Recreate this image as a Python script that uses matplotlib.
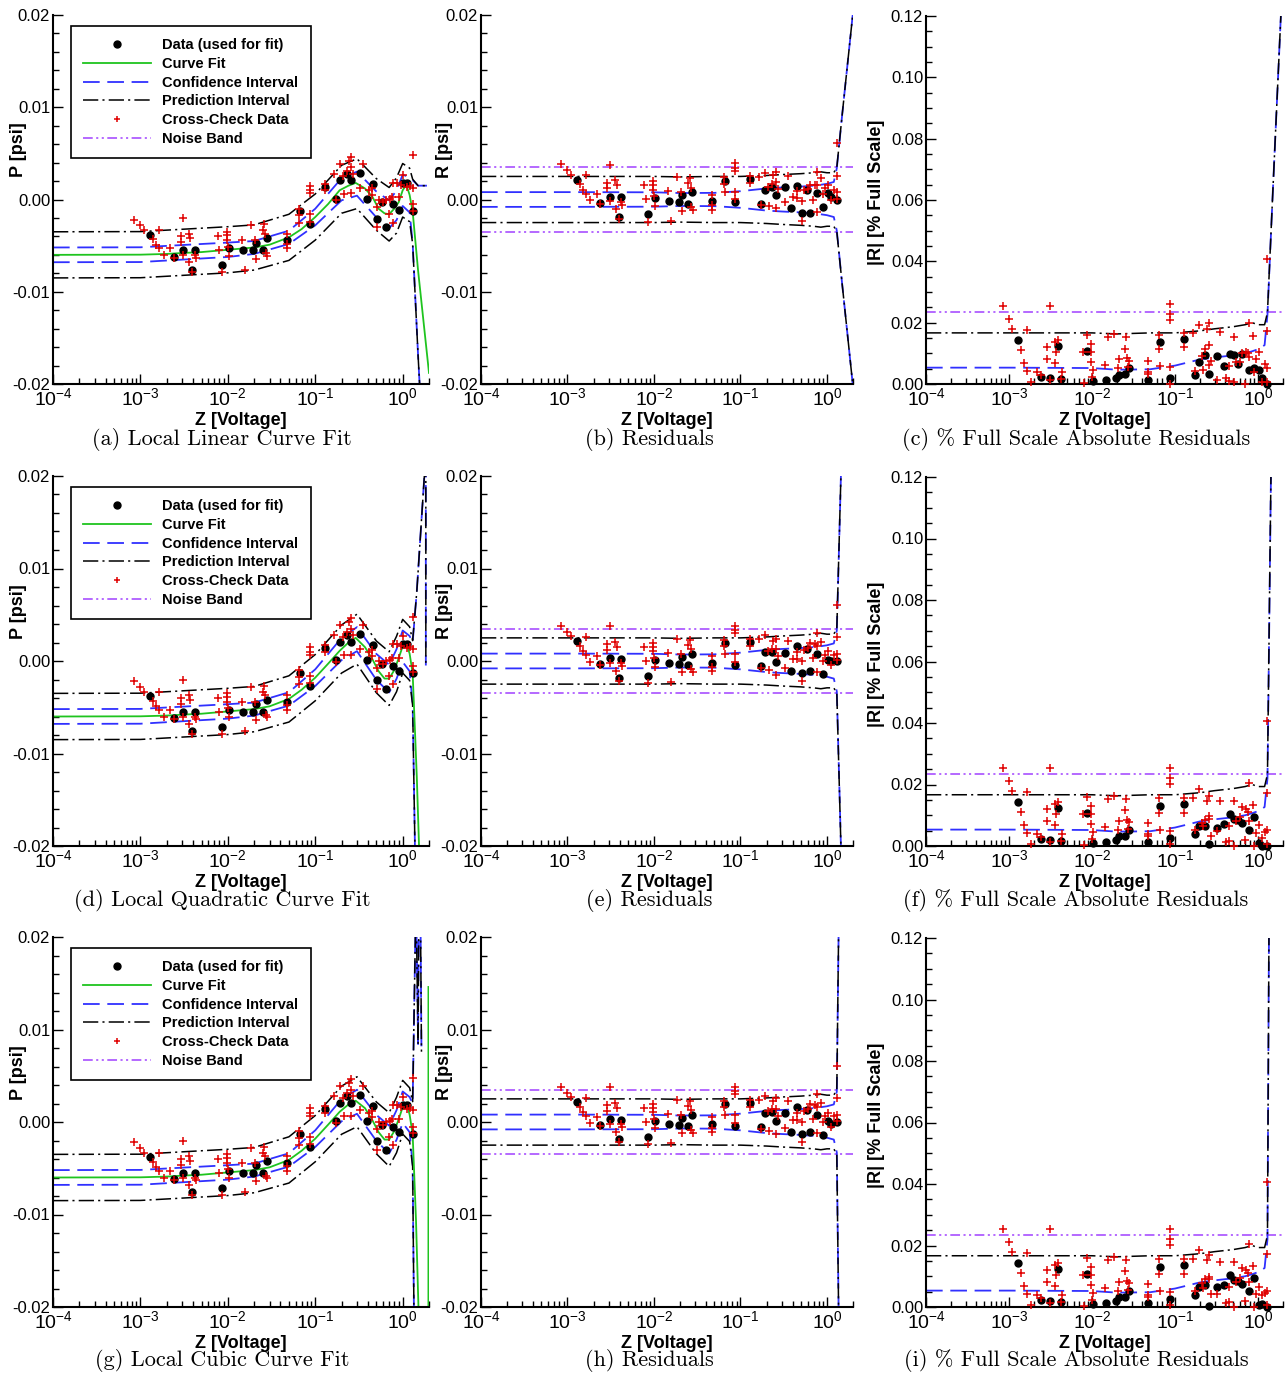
import numpy as np
import matplotlib.pyplot as plt
from matplotlib.lines import Line2D
from matplotlib.ticker import FixedLocator, MultipleLocator, LogLocator, NullFormatter, FuncFormatter

plt.rcParams['font.family'] = ['Liberation Sans', 'DejaVu Sans']
plt.rcParams['mathtext.fontset'] = 'custom'
plt.rcParams['mathtext.rm'] = 'Liberation Sans'
plt.rcParams['mathtext.it'] = 'Liberation Sans:italic'
plt.rcParams['mathtext.bf'] = 'Liberation Sans:bold'
plt.rcParams['lines.scale_dashes'] = False

# points used for the fit
z_fit = [1.29e-3, 2.4e-3, 3.1e-3, 3.9e-3, 4.2e-3, 8.6e-3, 1.03e-2, 1.48e-2, 1.93e-2, 2.1e-2,
         2.5e-2, 2.77e-2, 4.7e-2, 6.65e-2, 8.7e-2, 0.13, 0.173, 0.192, 0.229, 0.257,
         0.325, 0.388, 0.454, 0.509, 0.58, 0.645, 0.77, 0.9, 1.02, 1.11, 1.3]
p_fit = [-0.0038, -0.0062, -0.0055, -0.0076, -0.0055, -0.0071, -0.0053, -0.0055, -0.0055, -0.0047,
         -0.0055, -0.0042, -0.0044, -0.0013, -0.0027, 0.0014, 0.0001, 0.0021, 0.0028, 0.0021,
         0.0029, 0.0001, 0.0017, -0.0021, -0.0003, -0.0030, -0.0005, -0.0011, 0.0018, 0.0018, -0.0013]

# cross-check points
z_cc = [8.4e-4, 9.95e-4, 1.1e-3, 1.39e-3, 1.51e-3, 1.65e-3, 1.84e-3, 1.65e-3, 2.19e-3, 2.4e-3,
        2.88e-3, 2.88e-3, 3.1e-3, 3.1e-3, 3.58e-3, 3.7e-3, 3.6e-3, 3.9e-3, 4.2e-3, 4.3e-3,
        8.0e-3, 7.7e-3, 8.6e-3, 9.7e-3, 9.8e-3, 9.8e-3, 1.0e-2, 1.04e-2, 1.44e-2, 1.56e-2,
        1.83e-2, 2.03e-2, 2.1e-2, 2.5e-2, 2.6e-2, 2.65e-2, 2.7e-2, 2.8e-2, 4.7e-2, 4.7e-2,
        4.7e-2, 6.5e-2, 6.5e-2, 6.6e-2, 8.7e-2, 8.7e-2, 8.7e-2, 8.7e-2, 8.7e-2, 0.13,
        0.13, 0.165, 0.173, 0.192, 0.215, 0.229, 0.257, 0.257, 0.257, 0.325,
        0.35, 0.41, 0.446, 0.509, 0.51, 0.54, 0.645, 0.69, 0.76, 0.77,
        0.77, 0.86, 0.9, 1.02, 1.11, 1.3, 1.3, 1.3, 1.3, 0.21,
        0.24, 0.27, 0.45, 0.6, 0.72, 0.95, 1.2]
p_cc = [-0.00217, -0.0028, -0.0033, -0.0043, -0.0049, -0.0053, -0.0060, -0.0033, -0.0053, -0.0063,
        -0.0040, -0.0046, -0.0020, -0.0060, -0.0037, -0.0042, -0.0068, -0.0079, -0.0060, -0.0063,
        -0.0055, -0.0040, -0.0079, -0.0035, -0.0039, -0.0044, -0.0051, -0.0061, -0.0044, -0.0076,
        -0.0028, -0.0044, -0.0064, -0.0033, -0.0027, -0.0037, -0.0058, -0.0061, -0.0037, -0.0048,
        -0.0053, -0.0010, -0.0017, -0.0025, 0.0015, 0.0010, 0.0007, -0.0016, -0.0024, 0.0017,
        0.0010, 0.0028, -0.0001, 0.0039, 0.0006, 0.0031, 0.0046, 0.0035, 0.0007, 0.0013,
        0.0039, 0.0010, 0.0005, -0.0008, -0.0030, 0.0000, 0.0000, -0.0016, 0.0003, 0.0018,
        -0.0025, 0.0018, 0.0003, 0.0027, 0.0014, 0.0048, 0.0013, -0.0005, -0.0012, 0.0026,
        0.0042, 0.0028, 0.0012, -0.0003, 0.0001, 0.0016, 0.0015]

full_scale = 15.0   # psi
noise = 0.0035      # psi

# curve fits: shared grid up to 1.3 V, then each fit's own tail
fit_z_body = [1e-4, 1e-3, 2e-3, 3e-3, 5e-3, 1e-2, 2e-2, 3e-2, 5e-2, 7e-2, 0.1, 0.14, 0.19,
              0.24, 0.29, 0.37, 0.45, 0.53, 0.62, 0.7, 0.8, 0.9, 1.0, 1.1, 1.2, 1.3]
fit_lin = [-0.0060, -0.00598, -0.0059, -0.0058, -0.0057, -0.00545, -0.0052, -0.0049, -0.0041, -0.0032,
           -0.0019, -0.0005, 0.0010, 0.0015, 0.0018, 0.0012, 0.0003, -0.0010, -0.0015, -0.0016,
           -0.0010, -0.0003, 0.0010, 0.0016, 0.0005, -0.0013]
fit_quad = [-0.0060, -0.00598, -0.0059, -0.0058, -0.0057, -0.00545, -0.0052, -0.0049, -0.0041, -0.0031,
            -0.0018, -0.0003, 0.0011, 0.0020, 0.0025, 0.0015, 0.0002, -0.0011, -0.0019, -0.0019,
            -0.0010, 0.0003, 0.0016, 0.0019, 0.0008, -0.0013]
fit_cub = [-0.0060, -0.00598, -0.0059, -0.0058, -0.0057, -0.00545, -0.0052, -0.0049, -0.0041, -0.0031,
           -0.0018, -0.0003, 0.0011, 0.0019, 0.0023, 0.0015, 0.0002, -0.0011, -0.0019, -0.0019,
           -0.0010, 0.0003, 0.0016, 0.0021, 0.0008, -0.0013]
tail_z_lin, tail_p_lin = [1.5, 2.0], [-0.0077, -0.0188]
tail_z_quad, tail_p_quad = [1.45, 1.55, 1.77, 1.85], [-0.0125, -0.021, -0.040, -0.045]
tail_z_cub, tail_p_cub = [1.42, 1.52, 1.64, 1.96, 1.97], [-0.0106, -0.0205, -0.030, -0.5, 0.0146]

# interval half-widths (psi)
band_z_body = [1e-4, 1e-3, 1e-2, 2e-2, 5e-2, 0.1, 0.2, 0.3, 0.5, 0.7, 0.85, 1.0, 1.2]
ci_body = [0.0008, 0.0008, 0.00078, 0.0007, 0.00072, 0.0009, 0.0012, 0.0013, 0.0014, 0.0015, 0.0016, 0.0017, 0.0019]
pi_body = [0.0025, 0.0025, 0.0025, 0.00245, 0.0025, 0.0025, 0.0026, 0.0027, 0.0028, 0.0029, 0.0030, 0.0029, 0.0029]
band_tail_z_lin = [1.3, 1.5, 2.0]
ci_tail_lin = [0.0034, 0.0092, 0.0203]
pi_tail_lin = [0.0035, 0.0092, 0.0203]
band_tail_z_quad = [1.3, 1.45, 1.77, 1.83, 1.84]
ci_tail_quad = [0.0033, 0.020, 0.060, 0.35, 0.0439]
pi_tail_quad = [0.0035, 0.020, 0.060, 0.35, 0.0439]
band_tail_z_cub = [1.3, 1.42, 1.5, 1.56, 1.64]
ci_tail_cub = [0.0033, 0.035, 0.027, 0.060, 0.0376]
pi_tail_cub = [0.0035, 0.035, 0.027, 0.060, 0.0376]

captions = [
    ['(a) Local Linear Curve Fit', '(b) Residuals', '(c) % Full Scale Absolute Residuals'],
    ['(d) Local Quadratic Curve Fit', '(e) Residuals', '(f) % Full Scale Absolute Residuals'],
    ['(g) Local Cubic Curve Fit', '(h) Residuals', '(i) % Full Scale Absolute Residuals'],
]

GREEN = '#1fc41f'
BLUE = '#3030ff'
RED = '#e00000'
PURPLE = '#a040ff'
LS_CI = (0, (12, 5.5))
LS_PI = (0, (11, 3, 1.5, 3))
LS_NB = (0, (7, 2.5, 1.5, 2.5, 1.5, 2.5))

W, H = 1286, 1376
fig = plt.figure(figsize=(W / 100, H / 100), dpi=100)


def add_axes_px(left, top, right, bottom):
    return fig.add_axes([left / W, 1 - bottom / H, (right - left) / W, (bottom - top) / H])


def interp_log(z, zz, pp):
    return np.interp(np.log10(z), np.log10(zz), pp)


def fmt_y(v, pos):
    if abs(v) < 1e-9:
        return '0.00'
    return '%.2f' % v


def style_axes(ax, ylim, ymajor, yminor):
    ax.set_xscale('log')
    ax.set_xlim(1e-4, 2.0)
    ax.set_ylim(*ylim)
    ax.xaxis.set_major_locator(FixedLocator([1e-4, 1e-3, 1e-2, 1e-1, 1.0]))
    ax.set_xticklabels([r'$10^{-4}$', r'$10^{-3}$', r'$10^{-2}$', r'$10^{-1}$', r'$10^{0}$'])
    ax.xaxis.set_minor_locator(LogLocator(base=10, subs=np.arange(2, 10), numticks=20))
    ax.xaxis.set_minor_formatter(NullFormatter())
    ax.yaxis.set_major_locator(MultipleLocator(ymajor))
    ax.yaxis.set_minor_locator(MultipleLocator(yminor))
    ax.yaxis.set_major_formatter(FuncFormatter(fmt_y))
    for s in ['top', 'right']:
        ax.spines[s].set_visible(False)
    for s in ['left', 'bottom']:
        ax.spines[s].set_linewidth(1.5)
    ax.tick_params(which='both', direction='in', top=False, right=False, width=1)
    ax.tick_params(which='major', length=7)
    ax.tick_params(which='minor', length=4)
    ax.tick_params(axis='x', which='major', labelsize=14, pad=2)
    ax.tick_params(axis='y', which='major', labelsize=12, pad=2)
    ax.set_xlabel('Z [Voltage]', fontsize=13, fontweight='bold', va='top')
    ax.xaxis.set_label_coords(0.5, -0.076)


legend_handles = [
    Line2D([], [], ls='none', marker='o', ms=5, color='black'),
    Line2D([], [], color=GREEN, lw=1.3),
    Line2D([], [], color=BLUE, lw=1.3, ls=LS_CI),
    Line2D([], [], color='black', lw=1.1, ls=LS_PI),
    Line2D([], [], ls='none', marker='+', ms=5, mew=1.1, color=RED),
    Line2D([], [], color=PURPLE, lw=1.1, ls=LS_NB),
]
legend_labels = ['Data (used for fit)', 'Curve Fit', 'Confidence Interval',
                 'Prediction Interval', 'Cross-Check Data', 'Noise Band']

fits = [
    (fit_lin, tail_z_lin, tail_p_lin, band_tail_z_lin, ci_tail_lin, pi_tail_lin),
    (fit_quad, tail_z_quad, tail_p_quad, band_tail_z_quad, ci_tail_quad, pi_tail_quad),
    (fit_cub, tail_z_cub, tail_p_cub, band_tail_z_cub, ci_tail_cub, pi_tail_cub),
]
row_px = [(15, 384), (476, 846), (937, 1307)]
caption_y = [439, 900, 1361]
caption_x = [222, 649, 1076]

zd = np.array(z_fit)
pd_ = np.array(p_fit)
zc = np.array(z_cc)
pc = np.array(p_cc)

for r, (fbody, tz, tp, btz, cit, pit) in enumerate(fits):
    top, bot = row_px[r]
    fz = np.array(fit_z_body + tz)
    fp = np.array(fbody + tp)
    bz = np.array(band_z_body + btz)
    ci = np.array(ci_body + cit)
    pi = np.array(pi_body + pit)
    center = interp_log(bz, fz, fp)

    res_d = pd_ - interp_log(zd, fz, fp)
    res_c = pc - interp_log(zc, fz, fp)

    # curve fit with intervals
    ax = add_axes_px(53, top, 429, bot)
    ax.plot(bz, center + ci, color=BLUE, lw=1.3, ls=LS_CI)
    ax.plot(bz, center - ci, color=BLUE, lw=1.3, ls=LS_CI)
    ax.plot(bz, center + pi, color='black', lw=1.1, ls=LS_PI)
    ax.plot(bz, center - pi, color='black', lw=1.1, ls=LS_PI)
    ax.plot(fz, fp, color=GREEN, lw=1.3)
    ax.plot(zd, pd_, 'o', ms=5, color='black', zorder=4)
    ax.plot(zc, pc, '+', ms=5.5, mew=1.1, color=RED, zorder=5)
    style_axes(ax, (-0.02, 0.02), 0.01, 0.002)
    ax.set_ylabel('P [psi]', fontsize=13, fontweight='bold')
    ax.yaxis.set_label_coords(-0.069, 0.634)
    leg = ax.legend(legend_handles, legend_labels, loc='upper left', bbox_to_anchor=(0.048, 0.970),
                    borderaxespad=0, fancybox=False, edgecolor='black', framealpha=1,
                    prop={'weight': 'bold', 'size': 10.5}, handlelength=4.6, handletextpad=0.8,
                    borderpad=0.85, labelspacing=0.32)
    leg.get_frame().set_linewidth(1.2)
    leg.set_zorder(10)

    # residuals
    ax = add_axes_px(481, top, 853, bot)
    ax.axhline(noise, color=PURPLE, lw=1.1, ls=LS_NB)
    ax.axhline(-noise, color=PURPLE, lw=1.1, ls=LS_NB)
    ax.plot(bz, ci, color=BLUE, lw=1.3, ls=LS_CI)
    ax.plot(bz, -ci, color=BLUE, lw=1.3, ls=LS_CI)
    ax.plot(bz, pi, color='black', lw=1.1, ls=LS_PI)
    ax.plot(bz, -pi, color='black', lw=1.1, ls=LS_PI)
    ax.plot(zd, res_d, 'o', ms=5, color='black', zorder=4)
    ax.plot(zc, res_c, '+', ms=5.5, mew=1.1, color=RED, zorder=5)
    style_axes(ax, (-0.02, 0.02), 0.01, 0.002)
    ax.set_ylabel('R [psi]', fontsize=13, fontweight='bold')
    ax.yaxis.set_label_coords(-0.075, 0.634)

    # absolute residuals as % of full scale
    pct = 100.0 / full_scale
    ax = add_axes_px(926, top + 1, 1283, bot)
    ax.axhline(noise * pct, color=PURPLE, lw=1.1, ls=LS_NB)
    ax.plot(bz, ci * pct, color=BLUE, lw=1.3, ls=LS_CI)
    ax.plot(bz, pi * pct, color='black', lw=1.1, ls=LS_PI)
    ax.plot(zd, np.abs(res_d) * pct, 'o', ms=5, color='black', zorder=4, clip_on=False)
    ax.plot(zc, np.abs(res_c) * pct, '+', ms=5.5, mew=1.1, color=RED, zorder=5, clip_on=False)
    style_axes(ax, (0.0, 0.12), 0.02, 0.005)
    ax.set_ylabel('|R| [% Full Scale]', fontsize=13, fontweight='bold')
    ax.yaxis.set_label_coords(-0.115, 0.52)

    for c in range(3):
        fig.text(caption_x[c] / W, 1 - caption_y[r] / H, captions[r][c], ha='center', va='center',
                 fontsize=16, family=['cmr10', 'DejaVu Serif'])

fig.savefig('out.png', dpi=100)
